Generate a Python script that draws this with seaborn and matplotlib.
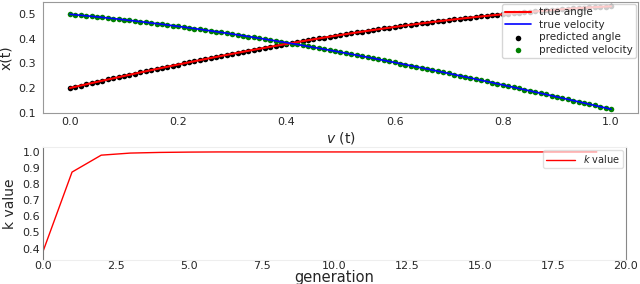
import matplotlib
matplotlib.use("Agg")
import matplotlib.pyplot as plt
import seaborn as sns
import pandas as pd

# time grid and trajectories (0.01 steps)
t = [i / 100 for i in range(101)]
true_angle = [
    0.2000, 0.2050, 0.2100, 0.2149, 0.2198, 0.2247, 0.2296, 0.2345, 0.2393, 0.2441,
    0.2489, 0.2537, 0.2584, 0.2631, 0.2678, 0.2725, 0.2771, 0.2817, 0.2863, 0.2909,
    0.2954, 0.2999, 0.3043, 0.3088, 0.3132, 0.3176, 0.3219, 0.3262, 0.3305, 0.3347,
    0.3389, 0.3431, 0.3473, 0.3514, 0.3555, 0.3595, 0.3635, 0.3675, 0.3714, 0.3753,
    0.3792, 0.3830, 0.3868, 0.3906, 0.3943, 0.3979, 0.4016, 0.4052, 0.4087, 0.4123,
    0.4157, 0.4192, 0.4226, 0.4259, 0.4292, 0.4325, 0.4358, 0.4389, 0.4421, 0.4452,
    0.4483, 0.4513, 0.4543, 0.4572, 0.4601, 0.4629, 0.4657, 0.4685, 0.4712, 0.4739,
    0.4764, 0.4790, 0.4815, 0.4840, 0.4864, 0.4888, 0.4911, 0.4934, 0.4956, 0.4978,
    0.5000, 0.5021, 0.5041, 0.5061, 0.5081, 0.5100, 0.5118, 0.5136, 0.5154, 0.5171,
    0.5188, 0.5204, 0.5220, 0.5235, 0.5249, 0.5263, 0.5277, 0.5290, 0.5303, 0.5315,
    0.5327,
]
true_velocity = [
    0.5000, 0.4980, 0.4959, 0.4938, 0.4917, 0.4895, 0.4872, 0.4849, 0.4826, 0.4802,
    0.4777, 0.4752, 0.4727, 0.4701, 0.4675, 0.4648, 0.4621, 0.4594, 0.4566, 0.4537,
    0.4508, 0.4479, 0.4449, 0.4419, 0.4388, 0.4357, 0.4326, 0.4294, 0.4262, 0.4229,
    0.4196, 0.4163, 0.4129, 0.4095, 0.4060, 0.4025, 0.3990, 0.3954, 0.3918, 0.3881,
    0.3845, 0.3807, 0.3770, 0.3732, 0.3694, 0.3655, 0.3616, 0.3577, 0.3537, 0.3498,
    0.3457, 0.3417, 0.3376, 0.3335, 0.3293, 0.3252, 0.3210, 0.3167, 0.3125, 0.3082,
    0.3039, 0.2995, 0.2951, 0.2907, 0.2863, 0.2819, 0.2774, 0.2729, 0.2684, 0.2638,
    0.2593, 0.2547, 0.2501, 0.2454, 0.2408, 0.2361, 0.2314, 0.2267, 0.2220, 0.2172,
    0.2124, 0.2076, 0.2028, 0.1980, 0.1932, 0.1883, 0.1834, 0.1785, 0.1736, 0.1687,
    0.1638, 0.1588, 0.1539, 0.1489, 0.1439, 0.1389, 0.1339, 0.1289, 0.1238, 0.1188,
    0.1137,
]
# predictions sit on top of the true curves
pred_angle = list(true_angle)
pred_velocity = list(true_velocity)

generation = list(range(20))
k_value = [0.380, 0.875, 0.980, 0.993, 0.997, 0.999, 1.0, 1.0, 1.0, 1.0,
           1.0, 1.0, 1.0, 1.0, 1.0, 1.0, 1.0, 1.0, 1.0, 1.0]

df = pd.DataFrame({"t": t, "true_angle": true_angle, "true_velocity": true_velocity,
                   "pred_angle": pred_angle, "pred_velocity": pred_velocity})
dk = pd.DataFrame({"generation": generation, "k": k_value})

sns.set_style("white")
plt.rcParams["font.family"] = ["DejaVu Sans"]

fig = plt.figure(figsize=(6.4, 2.84), dpi=100)
ax1 = fig.add_axes([0.067, 0.602, 0.930, 0.391])
ax2 = fig.add_axes([0.067, 0.085, 0.911, 0.397])

# top panel
sns.scatterplot(data=df, x="t", y="pred_angle", ax=ax1, color="black", s=16,
                linewidth=0, label="predicted angle", zorder=1)
sns.scatterplot(data=df, x="t", y="pred_velocity", ax=ax1, color="green", s=16,
                linewidth=0, label="predicted velocity", zorder=1)
sns.lineplot(data=df, x="t", y="true_angle", ax=ax1, color="red", lw=1.5,
             label="true angle", zorder=2)
sns.lineplot(data=df, x="t", y="true_velocity", ax=ax1, color="blue", lw=1.2,
             label="true velocity", zorder=2)
ax1.set_ylim(0.098, 0.55)
ax1.set_yticks([0.1, 0.2, 0.3, 0.4, 0.5])
ax1.set_xticks([0.0, 0.2, 0.4, 0.6, 0.8, 1.0])
ax1.set_xlabel("$v$ (t)", fontsize=10, labelpad=2)
ax1.set_ylabel("x(t)", fontsize=10, labelpad=4)
h, l = ax1.get_legend_handles_labels()
order = [l.index(n) for n in ["true angle", "true velocity", "predicted angle", "predicted velocity"]]
ax1.legend([h[i] for i in order], [l[i] for i in order], loc="upper right",
           fontsize=7.5, framealpha=0.8, borderaxespad=0.2, handlelength=2.5,
           labelspacing=0.25, borderpad=0.3)
for sp in ax1.spines.values():
    sp.set_color("#999999")
ax1.tick_params(axis="y", length=3, color="#999999", labelsize=8, pad=2)
ax1.tick_params(axis="x", length=0, labelsize=8, pad=3)

# bottom panel
sns.lineplot(data=dk, x="generation", y="k", ax=ax2, color="red", lw=1.0,
             label="$k$ value")
ax2.set_xlim(0, 20)
ax2.set_ylim(0.33, 1.03)
ax2.set_xticks([0, 2.5, 5, 7.5, 10, 12.5, 15, 17.5, 20])
ax2.set_xticklabels(["0.0", "2.5", "5.0", "7.5", "10.0", "12.5", "15.0", "17.5", "20.0"])
ax2.set_yticks([0.4, 0.5, 0.6, 0.7, 0.8, 0.9, 1.0])
ax2.set_xlabel("generation", fontsize=10.5, labelpad=-1)
ax2.set_ylabel("k value", fontsize=10, labelpad=4)
ax2.legend(loc="upper right", fontsize=7, framealpha=0.6, borderaxespad=0.3,
           handlelength=3, borderpad=0.3)
ax2.spines["left"].set_color("#777777")
ax2.spines["right"].set_color("#888888")
ax2.spines["top"].set_color("#eeeeee")
ax2.spines["bottom"].set_color("#eeeeee")
ax2.tick_params(axis="y", length=0, labelsize=8, pad=2)
ax2.tick_params(axis="x", length=0, labelsize=8, pad=1)

fig.savefig("out.png", dpi=100)
